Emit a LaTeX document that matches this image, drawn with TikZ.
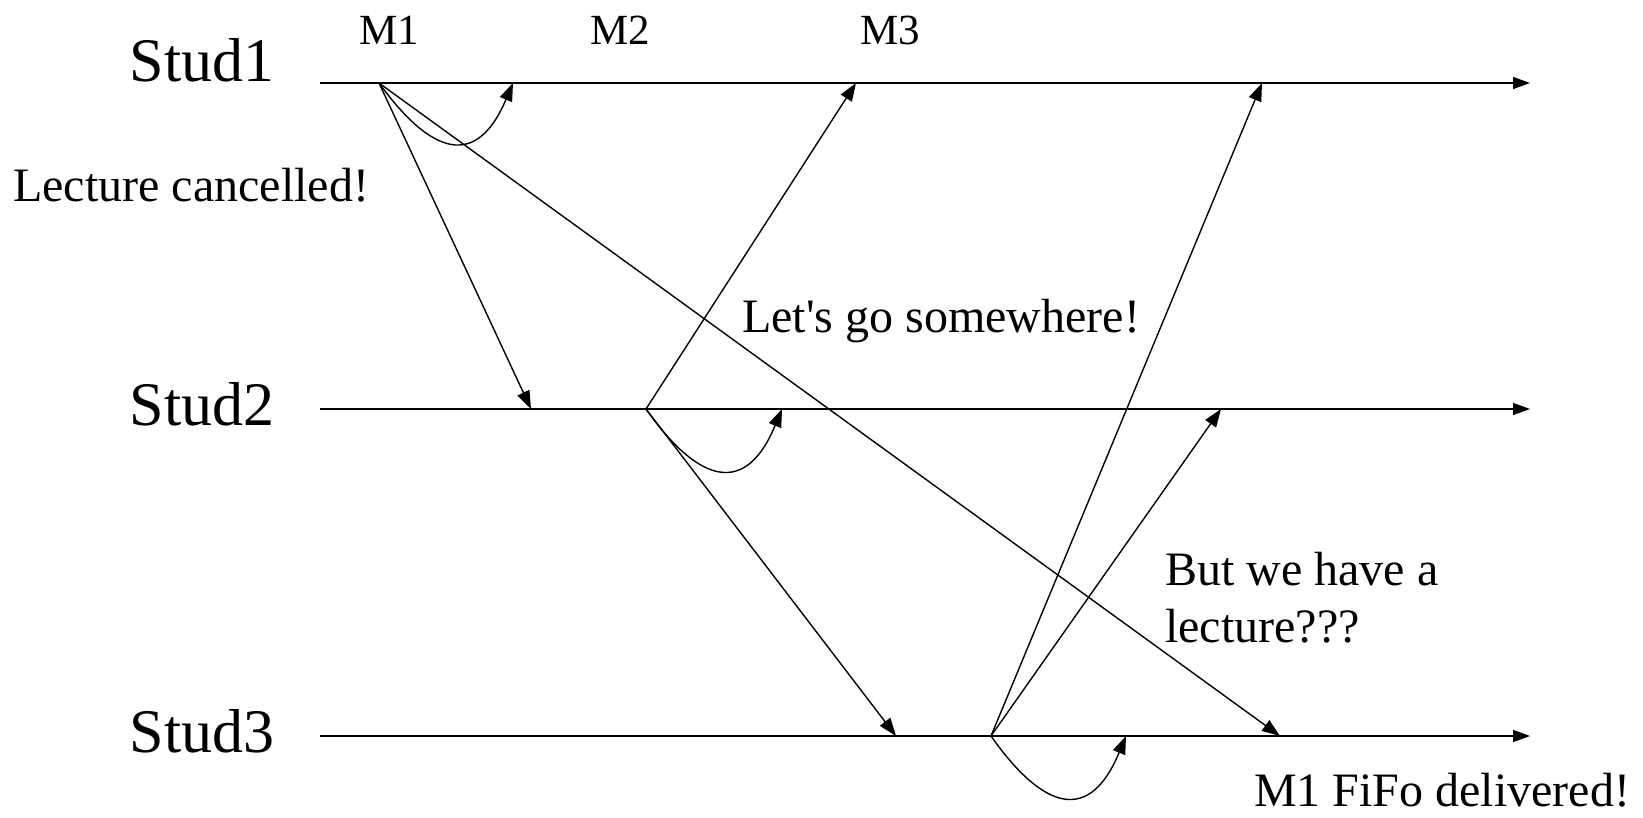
\documentclass[tikz,border=0pt]{standalone}
\usepackage{fontspec}
\setmainfont{Liberation Serif}
\usetikzlibrary{arrows.meta}
\begin{document}
\begin{tikzpicture}[x=1pt,y=-1pt,
  timeline/.style={line width=1.4pt,-{Triangle[length=17pt,width=12pt]}},
  msg/.style={line width=1.4pt,-{Triangle[length=18pt,width=13pt]}},
  lab/.style={font=\fontsize{48}{56}\selectfont,inner sep=0pt,anchor=base west},
  mlab/.style={font=\fontsize{43}{50}\selectfont,inner sep=0pt,anchor=base},
  studlab/.style={font=\fontsize{62}{72}\selectfont,inner sep=0pt,anchor=base}]
\useasboundingbox (0,0) rectangle (1643,817);
% timelines
\coordinate (s1a) at (320,83);  \coordinate (s1b) at (1530,83);
\coordinate (s2a) at (320,409); \coordinate (s2b) at (1530,409);
\coordinate (s3a) at (320,736); \coordinate (s3b) at (1530,736);
\draw[timeline] (s1a) -- (s1b);
\draw[timeline] (s2a) -- (s2b);
\draw[timeline] (s3a) -- (s3b);
\node[studlab] (stud1) at (202,81) {Stud1};
\node[studlab] (stud2) at (202,425) {Stud2};
\node[studlab] (stud3) at (202,752) {Stud3};
% events
\coordinate (m1) at (379,83);
\coordinate (m2) at (646,409);
\coordinate (m3) at (991,736);
\coordinate (m1s1) at (513,83);
\coordinate (m1s2) at (531,409);
\coordinate (m1s3) at (1280,736);
\coordinate (m2s1) at (856,83);
\coordinate (m2s2) at (782,409);
\coordinate (m2s3) at (896,736);
\coordinate (m3s1) at (1262,83);
\coordinate (m3s2) at (1221,409);
\coordinate (m3s3) at (1126,736);
% messages
\draw[msg] (m1) .. controls +(45,62) and +(-40,94) .. (m1s1);
\draw[msg] (m1) -- (m1s2);
\draw[msg] (m1) -- (m1s3);
\draw[msg] (m2) .. controls +(45,64) and +(-40,96) .. (m2s2);
\draw[msg] (m2) -- (m2s1);
\draw[msg] (m2) -- (m2s3);
\draw[msg] (m3) .. controls +(45,64) and +(-40,96) .. (m3s3);
\draw[msg] (m3) -- (m3s1);
\draw[msg] (m3) -- (m3s2);
% labels
\node[mlab] (l1) at (389,44) {M1};
\node[mlab] (l2) at (620,44) {M2};
\node[mlab] (l3) at (890,44) {M3};
\node[lab] (t1) at (13,201) {Lecture cancelled!};
\node[lab] (t2) at (742,332) {Let\textquotesingle s go somewhere!};
\node[lab] (t3) at (1165,585) {But we have a};
\node[lab] (t4) at (1165,642) {lecture???};
\node[lab] (t5) at (1254,806) {M1 FiFo delivered!};
\end{tikzpicture}
\end{document}
